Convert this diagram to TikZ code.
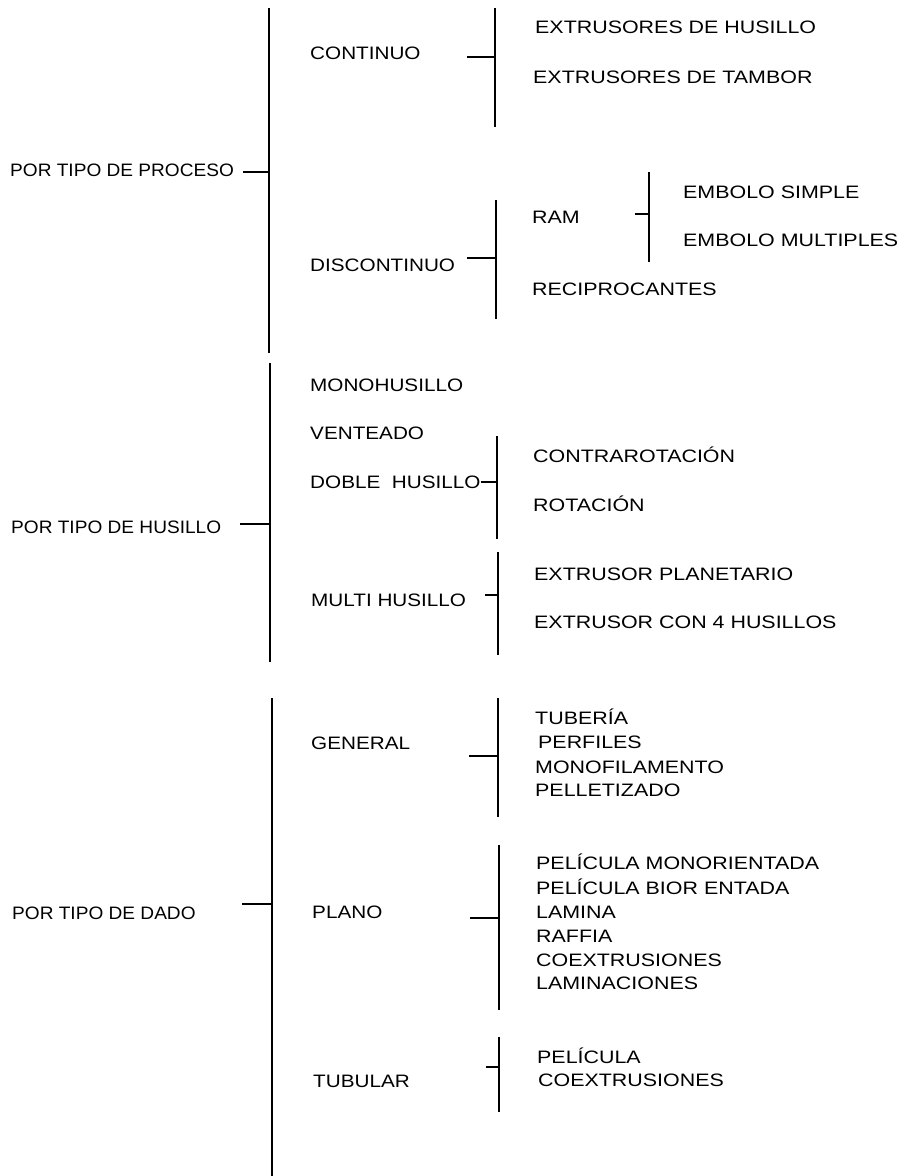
\documentclass[tikz,border=0pt]{standalone}
\usepackage{fontspec}
\setmainfont{Liberation Sans}[FakeStretch=1.1]
\newfontfamily\rootfont{Liberation Sans}[FakeStretch=1.06]
\newfontfamily\midfont{Liberation Sans}[FakeStretch=1.15]
\newfontfamily\leaffont{Liberation Sans}[FakeStretch=1.19]
\usetikzlibrary{positioning}

\tikzset{
    lbl/.style={
        anchor=west, inner sep=0pt,
        text height=12.9pt, text depth=0pt,
        font=\fontsize{18}{20}\selectfont,
    },
    rootlbl/.style={lbl, font=\fontsize{18}{20}\rootfont},
    midlbl/.style={lbl, font=\fontsize{18}{20}\midfont},
    leaflbl/.style={lbl, font=\fontsize{18}{20}\leaffont},
    bar/.style={draw=black, line width=2pt},
    stub/.style={draw=black, line width=1.8pt},
}

\begin{document}
\begin{tikzpicture}[x=1pt, y=-1pt]
        \useasboundingbox (0,0) rectangle (901,1176);

        % first level
        \node (proceso) at (10,170) [rootlbl] {POR TIPO DE PROCESO};
        \node (husillo) at (11,527) [rootlbl] {POR TIPO DE HUSILLO};
        \node (dado)    at (12,913) [rootlbl] {POR TIPO DE DADO};

        \coordinate (procesoTop) at (269,8);
        \coordinate (procesoBot) at (269,353);
        \coordinate (procesoStub) at (243,172);
        \draw[bar] (procesoTop) -- (procesoBot);
        \draw[stub] (procesoStub) -- (procesoStub -| procesoTop);

        \coordinate (husilloTop) at (270,363);
        \coordinate (husilloBot) at (270,662);
        \coordinate (husilloStub) at (240,524);
        \draw[bar] (husilloTop) -- (husilloBot);
        \draw[stub] (husilloStub) -- (husilloStub -| husilloTop);

        \coordinate (dadoTop) at (272,698);
        \coordinate (dadoBot) at (272,1176);
        \coordinate (dadoStub) at (242,904);
        \draw[bar] (dadoTop) -- (dadoBot);
        \draw[stub] (dadoStub) -- (dadoStub -| dadoTop);

        % second level
        \node (continuo)    at (310,53)   [midlbl] {CONTINUO};
        \node (discontinuo) at (310,265)  [midlbl] {DISCONTINUO};
        \node (monohusillo) at (310,385)  [midlbl] {MONOHUSILLO};
        \node (venteado)    at (310,433)  [midlbl] {VENTEADO};
        \node (doble)       at (310,482)  [midlbl] {DOBLE~ HUSILLO};
        \node (multi)       at (311,600)  [midlbl] {MULTI HUSILLO};
        \node (general)     at (311,743)  [midlbl] {GENERAL};
        \node (plano)       at (312,912)  [midlbl] {PLANO};
        \node (tubular)     at (313,1081) [midlbl] {TUBULAR};

        \coordinate (continuoTop) at (495,8);
        \coordinate (continuoBot) at (495,127);
        \coordinate (continuoStub) at (467,57);
        \draw[bar] (continuoTop) -- (continuoBot);
        \draw[stub] (continuoStub) -- (continuoStub -| continuoTop);

        \coordinate (discontinuoTop) at (496,200);
        \coordinate (discontinuoBot) at (496,319);
        \coordinate (discontinuoStub) at (467,258);
        \draw[bar] (discontinuoTop) -- (discontinuoBot);
        \draw[stub] (discontinuoStub) -- (discontinuoStub -| discontinuoTop);

        \coordinate (dobleTop) at (497,436);
        \coordinate (dobleBot) at (497,539);
        \draw[bar] (dobleTop) -- (dobleBot);
        \draw[stub] (doble.east) -- (doble.east -| dobleTop);

        \coordinate (multiTop) at (498,552);
        \coordinate (multiBot) at (498,655);
        \coordinate (multiStub) at (485,595);
        \draw[bar] (multiTop) -- (multiBot);
        \draw[stub] (multiStub) -- (multiStub -| multiTop);

        \coordinate (generalTop) at (498,698);
        \coordinate (generalBot) at (498,817);
        \coordinate (generalStub) at (469,756);
        \draw[bar] (generalTop) -- (generalBot);
        \draw[stub] (generalStub) -- (generalStub -| generalTop);

        \coordinate (planoTop) at (499,845);
        \coordinate (planoBot) at (499,1010);
        \coordinate (planoStub) at (470,918);
        \draw[bar] (planoTop) -- (planoBot);
        \draw[stub] (planoStub) -- (planoStub -| planoTop);

        \coordinate (tubularTop) at (499,1037);
        \coordinate (tubularBot) at (499,1112);
        \coordinate (tubularStub) at (486,1067);
        \draw[bar] (tubularTop) -- (tubularBot);
        \draw[stub] (tubularStub) -- (tubularStub -| tubularTop);

        % third level
        \node (exHusillo) at (535,27)  [leaflbl] {EXTRUSORES DE HUSILLO};
        \node (exTambor)  at (533,77)  [leaflbl] {EXTRUSORES DE TAMBOR};
        \node (ram)       at (532,217) [leaflbl] {RAM};
        \node (recipro)   at (532,289) [leaflbl] {RECIPROCANTES};
        \node (contraRot) at (533,456) [leaflbl] {CONTRAROTACIÓN};
        \node (rotacion)  at (533,505) [leaflbl] {ROTACIÓN};
        \node (planet)    at (534,574) [leaflbl] {EXTRUSOR PLANETARIO};
        \node (cuatro)    at (534,622) [leaflbl] {EXTRUSOR CON 4 HUSILLOS};

        \node (tuberia)   at (535,718) [leaflbl] {TUBERÍA};
        \node (perfiles)  at (538,742) [leaflbl] {PERFILES};
        \node (monofil)   at (535,767) [leaflbl] {MONOFILAMENTO};
        \node (pellet)    at (535,790) [leaflbl] {PELLETIZADO};

        \node (peliMono)  at (536,863) [leaflbl] {PELÍCULA MONORIENTADA};
        \node (peliBior)  at (536,888) [leaflbl] {PELÍCULA BIOR ENTADA};
        \node (lamina)    at (536,912) [leaflbl] {LAMINA};
        \node (raffia)    at (536,936) [leaflbl] {RAFFIA};
        \node (coexPlano) at (536,960) [leaflbl] {COEXTRUSIONES};
        \node (laminac)   at (536,983) [leaflbl] {LAMINACIONES};

        \node (peliTub)   at (537,1057) [leaflbl] {PELÍCULA};
        \node (coexTub)   at (538,1080) [leaflbl] {COEXTRUSIONES};

        % fourth level
        \coordinate (ramTop) at (649,172);
        \coordinate (ramBot) at (649,262);
        \coordinate (ramStub) at (635,214);
        \draw[bar] (ramTop) -- (ramBot);
        \draw[stub] (ramStub) -- (ramStub -| ramTop);

        \node (emSimple) at (683,192) [leaflbl] {EMBOLO SIMPLE};
        \node (emMulti)  at (683,240) [leaflbl] {EMBOLO MULTIPLES};
    \end{tikzpicture}
\end{document}
